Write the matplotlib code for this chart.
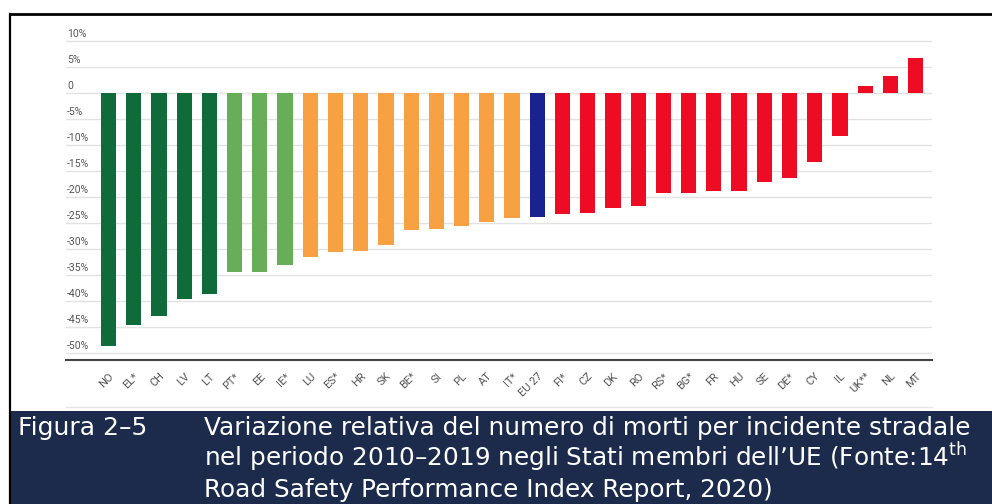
import matplotlib
matplotlib.use("Agg")
import matplotlib.pyplot as plt
import numpy as np
from matplotlib.lines import Line2D
from matplotlib.patches import Rectangle
from matplotlib.transforms import offset_copy

# relative change in road deaths 2010-2019 (%)
countries = ["NO", "EL*", "CH", "LV", "LT", "PT*", "EE", "IE*", "LU", "ES*", "HR",
             "SK", "BE*", "SI", "PL", "AT", "IT*", "EU 27", "FI*", "CZ", "DK", "RO",
             "RS*", "BG*", "FR", "HU", "SE", "DE*", "CY", "IL", "UK**", "NL", "MT"]
change_pct = [-48.8, -44.6, -43.0, -39.7, -38.7, -34.4, -34.4, -33.2, -31.5, -30.7,
              -30.5, -29.2, -26.4, -26.2, -25.7, -24.9, -24.1, -23.9, -23.4, -23.2,
              -22.1, -21.7, -19.3, -19.3, -18.9, -18.9, -17.2, -16.4, -13.4, -8.4,
              1.2, 3.3, 6.7]
groups = (["best"] * 5 + ["good"] * 3 + ["middle"] * 9 + ["eu"] +
          ["low"] * 15)
ytick_vals = list(range(10, -55, -5))
ytick_labels = ["10%", "5%", "0"] + [f"{v}%" for v in range(-5, -55, -5)]

caption_num = "Figura 2–5"
caption_lines = ["Variazione relativa del numero di morti per incidente stradale",
                 "nel periodo 2010–2019 negli Stati membri dell’UE (Fonte:14$^{\\rm th}$",
                 "Road Safety Performance Index Report, 2020)"]

GROUP_COLORS = {"best": "#0f6b3a", "good": "#68ae58", "middle": "#f7a143",
                "eu": "#1a2290", "low": "#ee0c24"}
NAVY = "#1c2b4b"

W, H = 992, 504
fig = plt.figure(figsize=(W / 100, H / 100), dpi=100)


def fx(px):
    return px / W


def fy(py):
    return 1 - py / H


# axes box in pixels: x 66..932, y 30..360
ax = fig.add_axes([fx(66), fy(360), fx(932 - 66), (360 - 30) / H])
x = np.arange(len(countries))
ax.bar(x, change_pct, width=0.6, color=[GROUP_COLORS[g] for g in groups], zorder=3)
ax.set_xlim(-1.685, 32.65)
ax.set_ylim(-51.4, 12.06)

for v in ytick_vals:
    ax.axhline(v, color="#e2e2e2", lw=1, zorder=1)
ax.set_yticks([])
tr = offset_copy(ax.get_yaxis_transform(), fig=fig, x=1, y=2, units="dots")
for v, lab in zip(ytick_vals, ytick_labels):
    ax.text(0.0, v, lab, transform=tr, ha="left", va="bottom", fontsize=7.5,
            color="#555555", family="Roboto")

ax.set_xticks(x, countries, rotation=45, ha="right", rotation_mode="anchor",
              fontsize=8, color="#555555", family="Roboto")
ax.tick_params(axis="x", length=0, pad=8)
for side in ["top", "right", "left"]:
    ax.spines[side].set_visible(False)
ax.spines["bottom"].set_color("#444444")
ax.spines["bottom"].set_linewidth(1.5)
ax.set_facecolor("none")

# frame lines and the light rule under the labels
fig.add_artist(Line2D([fx(9.5), 1], [fy(14), fy(14)], color="black", lw=2))
fig.add_artist(Line2D([fx(9.5), fx(9.5)], [0, fy(14)], color="black", lw=1.6))
fig.add_artist(Line2D([fx(66), fx(932)], [fy(407), fy(407)], color="#e6e6e6", lw=1))

# caption band (sized so the long lines still fit inside the picture)
fig.add_artist(Rectangle((fx(10.5), 0), 1, fy(411), transform=fig.transFigure,
                         color=NAVY, lw=0))
fig.text(fx(18), fy(435), caption_num, color="white", fontsize=18,
         family="DejaVu Sans", va="baseline", ha="left")
for i, line in enumerate(caption_lines):
    fig.text(fx(204), fy(435 + 31 * i), line, color="white", fontsize=17.8,
             family="DejaVu Sans", va="baseline", ha="left")

fig.savefig("out.png", dpi=100)
